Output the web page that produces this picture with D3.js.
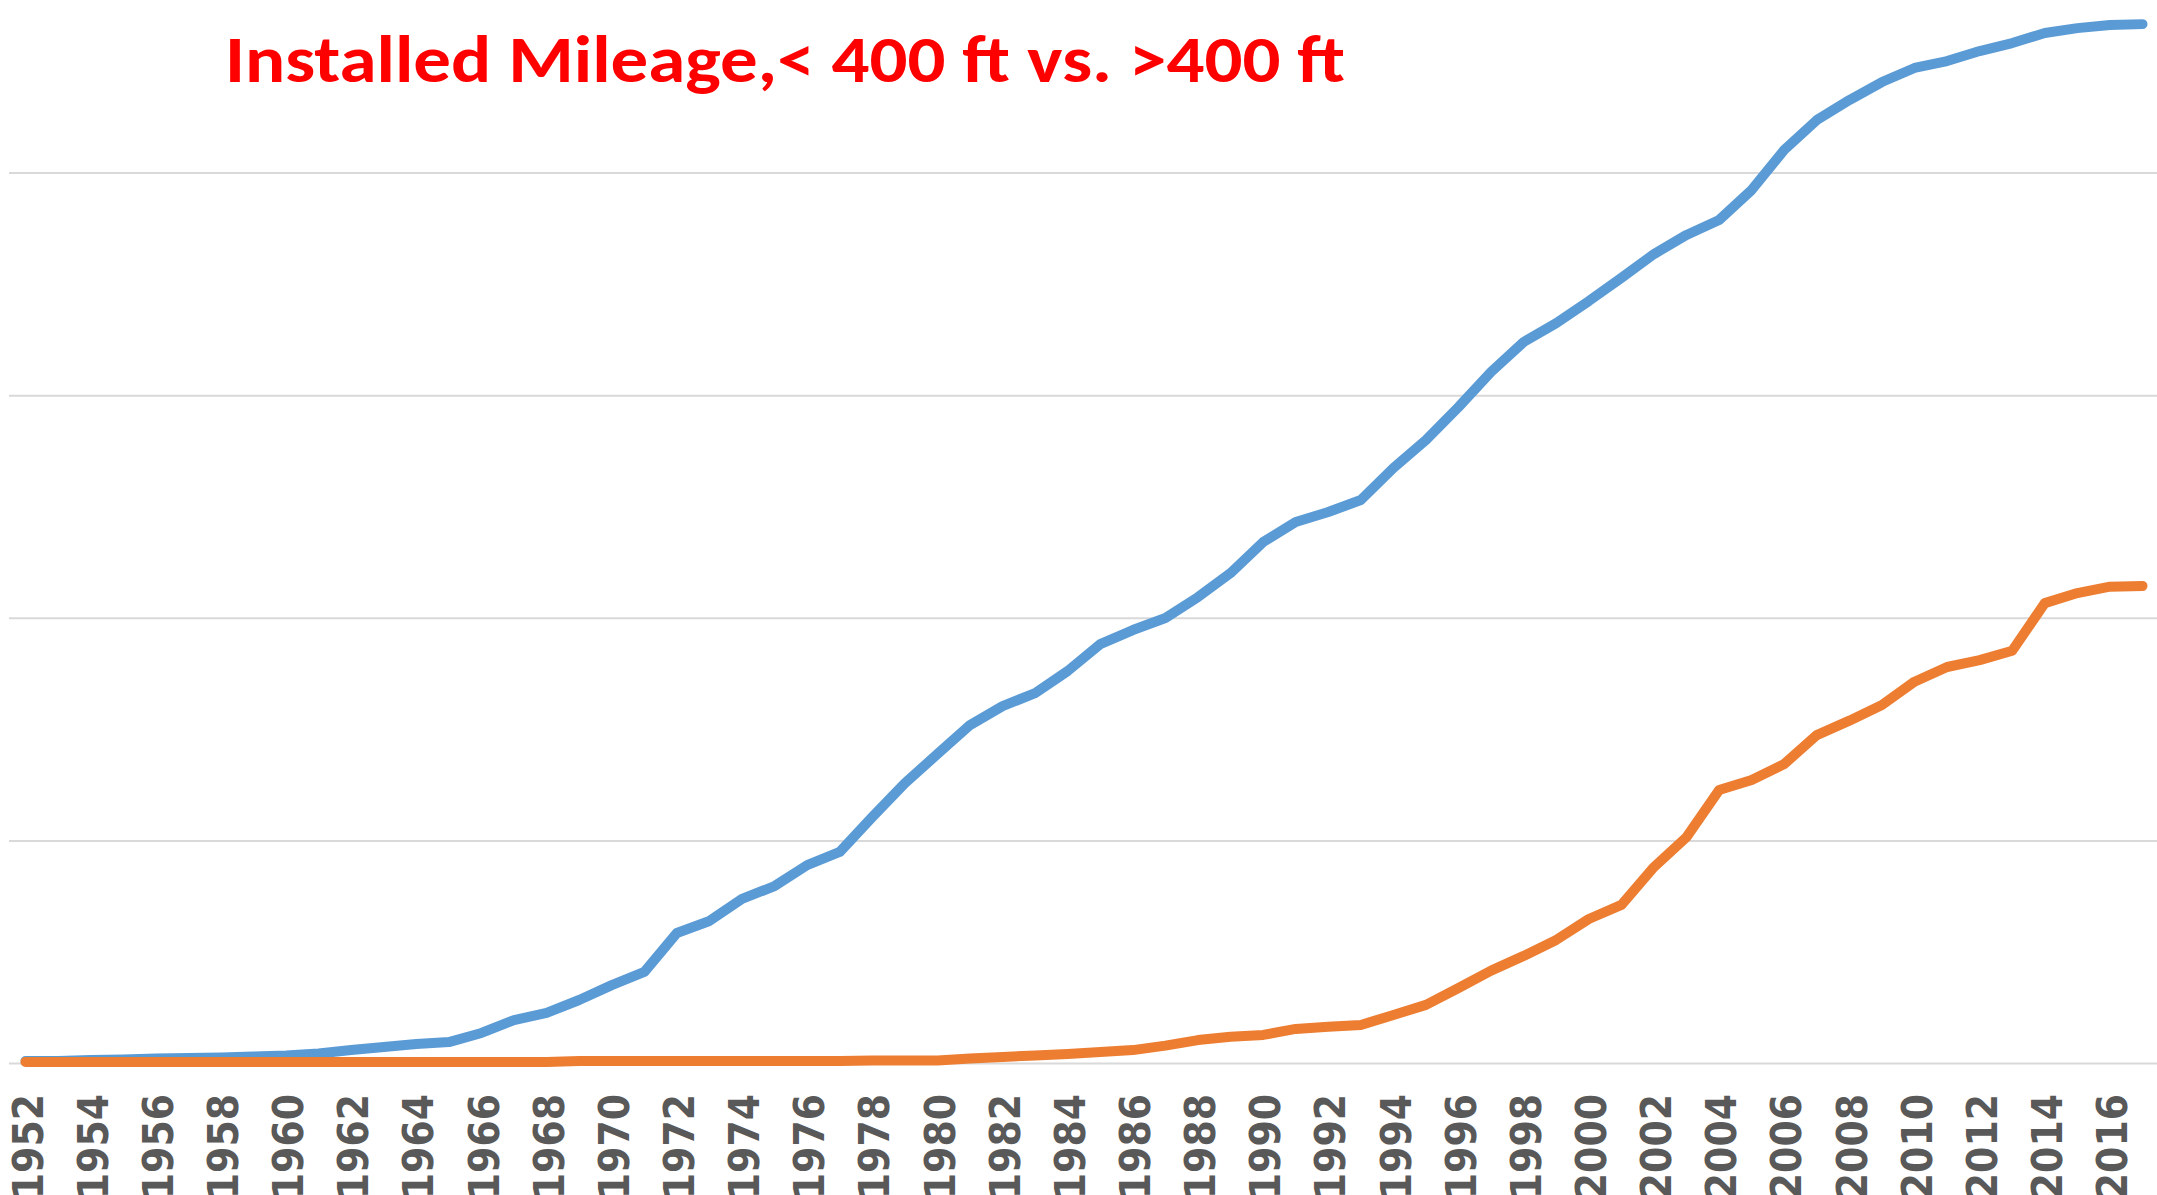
<!DOCTYPE html>
<html>
<head>
<meta charset="utf-8">
<script src="https://cdn.jsdelivr.net/npm/d3@7"></script>
<style>
  html, body { margin: 0; padding: 0; background: #ffffff; }
  svg { display: block; }
</style>
</head>
<body>
<svg id="chart" width="2157" height="1195"></svg>
<script>
// ---- data ----
const chartTitle = "Installed Mileage,< 400 ft vs. >400 ft";
const years = d3.range(1952, 2018);
const labelYears = d3.range(1952, 2017, 2);
const gridValues = [0, 1000, 2000, 3000, 4000];

// series "< 400 ft" (blue)
const seriesShort = [
  9, 9, 13, 16, 20, 22, 25, 29, 34, 43,
  58, 72, 85, 94, 135, 193, 225, 283, 350, 409,
  584, 638, 737, 795, 889, 948, 1105, 1257, 1388, 1518,
  1603, 1662, 1761, 1882, 1945, 1999, 2093, 2201, 2340, 2430,
  2475, 2529, 2673, 2799, 2947, 3105, 3239, 3324, 3423, 3527,
  3634, 3720, 3787, 3922, 4102, 4236, 4326, 4407, 4470, 4501,
  4546, 4582, 4627, 4649, 4663, 4667
];
// series ">400 ft" (orange)
const seriesLong = [
  5, 5, 5, 5, 5, 5, 5, 5, 5, 5,
  5, 5, 5, 5, 5, 5, 5, 9, 9, 9,
  9, 9, 9, 9, 9, 9, 11, 11, 11, 20,
  27, 34, 40, 49, 58, 78, 103, 118, 126, 153,
  163, 171, 216, 261, 337, 415, 481, 553, 647, 710,
  880, 1015, 1226, 1271, 1343, 1473, 1538, 1608, 1713, 1779,
  1810, 1852, 2066, 2111, 2140, 2143
];
const seriesColors = ["#5B9BD5", "#ED7D31"];

// ---- chart ----
const svg = d3.select("#chart");
const W = 2157;

const x = d3.scaleLinear().domain([1952, 2017]).range([25.5, 2142.5]);
const y = d3.scaleLinear().domain([0, 4000]).range([1063, 172.6]);

// gridlines
const grid = svg.append("g")
  .attr("transform", "translate(9,0)")
  .call(d3.axisLeft(y).tickValues(gridValues).tickSize(-(W - 9)).tickFormat(""));
grid.select(".domain").remove();
grid.selectAll(".tick line").attr("stroke", "#d9d9d9").attr("stroke-width", 2);

// x axis labels
const xAxis = svg.append("g")
  .attr("transform", "translate(1.5," + y(0) + ")")
  .call(d3.axisBottom(x).tickValues(labelYears).tickSize(0).tickFormat(d3.format("d")));
xAxis.select(".domain").remove();
xAxis.selectAll("text")
  .attr("transform", "rotate(-90)")
  .attr("x", -31)
  .attr("y", 0)
  .attr("dy", "0.36em")
  .attr("text-anchor", "end")
  .attr("fill", "#595959")
  .style("font-family", "'DejaVu Sans Condensed', 'DejaVu Sans', sans-serif")
  .style("font-stretch", "condensed")
  .style("font-weight", "bold")
  .style("font-size", "42px");

// lines
const line = d3.line()
  .x((d, i) => x(years[i]))
  .y(d => y(d));

[seriesShort, seriesLong].forEach((s, k) => {
  svg.append("path")
    .datum(s)
    .attr("fill", "none")
    .attr("stroke", seriesColors[k])
    .attr("stroke-width", 10)
    .attr("stroke-linejoin", "round")
    .attr("stroke-linecap", "round")
    .attr("d", line);
});

// title
svg.append("text")
  .attr("x", 225)
  .attr("y", 82)
  .attr("fill", "#FF0000")
  .attr("textLength", 1120)
  .attr("lengthAdjust", "spacingAndGlyphs")
  .style("font-family", "Carlito, Lato, 'Open Sans', sans-serif")
  .style("font-weight", "bold")
  .style("font-size", "67px")
  .text(chartTitle);
</script>
</body>
</html>
